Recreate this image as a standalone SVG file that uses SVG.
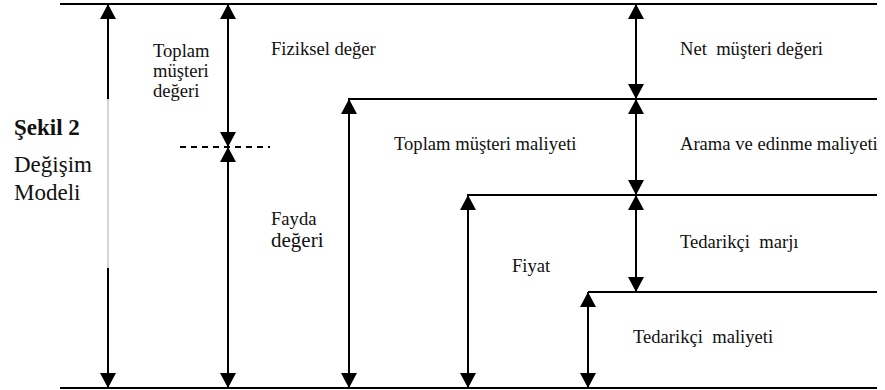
<svg xmlns="http://www.w3.org/2000/svg" width="885" height="390" viewBox="0 0 885 390">
<style>
.ln{stroke:#000;stroke-width:2;fill:none}
.ar{stroke:#000;stroke-width:2;fill:none;marker-start:url(#ah);marker-end:url(#ah)}
.t{font-family:'Liberation Serif',serif;font-size:18.6px;fill:#111}
.big{font-size:23px}
</style>
<defs>
<marker id="ah" viewBox="0 0 15 16" refX="15" refY="8" markerWidth="15" markerHeight="16" markerUnits="userSpaceOnUse" orient="auto-start-reverse">
<path d="M0,0 L15,8 L0,16 z" fill="#000"/>
</marker>
</defs>
<rect width="885" height="390" fill="#fff"/>
<g id="connectors">
<line class="ln" x1="60" y1="4" x2="877" y2="4"/>
<line class="ln" x1="60" y1="388" x2="877" y2="388"/>
<line class="ln" x1="348" y1="99" x2="877" y2="99"/>
<line class="ln" x1="467" y1="195" x2="877" y2="195"/>
<line class="ln" x1="588" y1="292" x2="877" y2="292"/>
<line x1="180" y1="147" x2="270" y2="147" stroke="#000" stroke-width="2" stroke-dasharray="6,5"/>
<line x1="108" y1="99" x2="108" y2="268" stroke="#aaa" stroke-width="1"/>
<line x1="108" y1="99" x2="108" y2="4" class="ln" marker-end="url(#ah)"/>
<line x1="108" y1="268" x2="108" y2="388" class="ln" marker-end="url(#ah)"/>
<line class="ar" x1="228" y1="4" x2="228" y2="147"/>
<line class="ar" x1="228" y1="147" x2="228" y2="388"/>
<line class="ar" x1="349" y1="99" x2="349" y2="388"/>
<line class="ar" x1="468" y1="195" x2="468" y2="388"/>
<line class="ar" x1="588" y1="292" x2="588" y2="388"/>
<line class="ar" x1="636" y1="4" x2="636" y2="99"/>
<line class="ar" x1="636" y1="99" x2="636" y2="195"/>
<line class="ar" x1="636" y1="195" x2="636" y2="292"/>
</g>
<g id="title" font-family="Liberation Serif, serif">
<text class="t big" x="14" y="135" font-weight="bold">Şekil 2</text>
<text class="t big" x="14" y="172">Değişim</text>
<text class="t big" x="14" y="200">Modeli</text>
</g>
<g id="toplam-musteri-degeri">
<text class="t" x="153" y="57">Toplam</text>
<text class="t" x="153" y="77">müşteri</text>
<text class="t" x="153" y="97">değeri</text>
</g>
<g id="fiziksel-deger"><text class="t" x="271" y="55">Fiziksel değer</text></g>
<g id="fayda-degeri">
<text class="t" x="271" y="225">Fayda</text>
<text class="t" x="271" y="247" style="font-size:21px">değeri</text>
</g>
<g id="toplam-musteri-maliyeti"><text class="t" x="394" y="150">Toplam müşteri maliyeti</text></g>
<g id="fiyat"><text class="t" x="512" y="272">Fiyat</text></g>
<g id="net-musteri-degeri"><text class="t" x="680" y="55" xml:space="preserve">Net  müşteri değeri</text></g>
<g id="arama-edinme"><text class="t" x="680" y="150">Arama ve edinme maliyeti</text></g>
<g id="tedarikci-marji"><text class="t" x="680" y="248" xml:space="preserve">Tedarikçi  marjı</text></g>
<g id="tedarikci-maliyeti"><text class="t" x="633" y="343" xml:space="preserve">Tedarikçi  maliyeti</text></g>
</svg>
